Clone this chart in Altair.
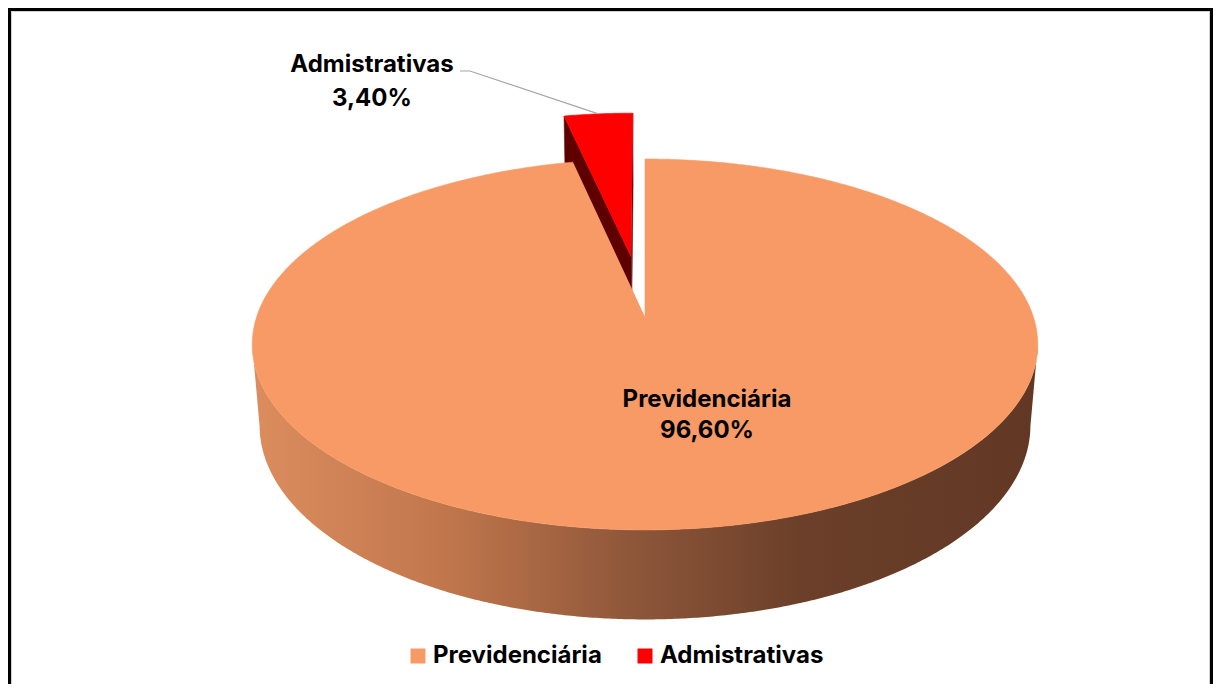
import numpy as np
import pandas as pd
import altair as alt

# ---------------- data ----------------
categories = ["Previdenciária", "Admistrativas"]
values = [96.60, 3.40]
value_labels = ["96,60%", "3,40%"]
top_colors = ["#F89A65", "#FF0000"]
side_colors = ["#8E573A", "#5E0000"]
explode = [0.0, 0.35]

# ---------------- layout / projection constants ----------------
W, H = 1205, 676
OX, OY = 8, 8
CX, CY = 645.0, 317.0
FOC, DIST = 2320.0, 5.973
ALPHA = np.arcsin(0.467)
CA, SA = np.cos(ALPHA), np.sin(ALPHA)
DEPTH = 0.2385
FONT = "Inter"


def proj(X, Yh, Z):
    X = np.asarray(X, float)
    Z = np.asarray(Z, float)
    Yh = np.asarray(Yh, float) + 0 * X
    d = DIST + Z * CA - Yh * SA
    u = FOC * X / d
    v = FOC * (Yh * CA + Z * SA) / d
    return CX + u, CY - v


total = float(sum(values))
ends = np.cumsum(values) / total * 360.0
starts = ends - np.array(values) / total * 360.0

rows = []


def add_poly(pid, layer, xs, ys, cat=""):
    for i, (x, y) in enumerate(zip(xs, ys)):
        rows.append({"poly": pid, "layer": layer, "i": i, "x": float(x), "y": float(y), "category": cat})


leader_end = None
for k, cat in enumerate(categories):
    a0, a1 = np.radians(starts[k]), np.radians(ends[k])
    mid = 0.5 * (a0 + a1)
    ox, oz = explode[k] * np.sin(mid), explode[k] * np.cos(mid)
    th = np.linspace(a0, a1, max(8, int(np.degrees(a1 - a0) * 2)))
    # radial faces (visible only when exploded)
    if explode[k] > 0:
        for a in (a1, a0):
            ex, ez = ox + np.sin(a), oz + np.cos(a)
            xs, ys = proj([ox, ex, ex, ox], [0, 0, -DEPTH, -DEPTH], [oz, ez, ez, oz])
            add_poly(f"rad{k}_{a:.3f}", "radial", xs, ys, cat)
        tx, ty = proj(ox + np.sin(mid), 0, oz + np.cos(mid))
        leader_end = (float(tx), float(ty))
    # outer wall (front-facing part)
    lim = np.arccos(-CA / DIST)
    lo, hi = max(a0, lim), min(a1, 2 * np.pi - lim)
    if hi > lo:
        tw = np.linspace(lo, hi, 400)
        xt, yt = proj(ox + np.sin(tw), 0, oz + np.cos(tw))
        xb, yb = proj(ox + np.sin(tw), -DEPTH, oz + np.cos(tw))
        add_poly(f"wall{k}", "wall", np.r_[xt, xb[::-1]], np.r_[yt, yb[::-1]], cat)
    # top face
    xa, ya = proj(ox + np.sin(th), 0, oz + np.cos(th))
    cx0, cy0 = proj(ox, 0, oz)
    add_poly(f"top{k}", "top", np.r_[cx0, xa], np.r_[cy0, ya], cat)

poly = pd.DataFrame(rows)

xs_ = alt.Scale(domain=[OX, OX + W], nice=False, zero=False)
ys_ = alt.Scale(domain=[OY, OY + H], nice=False, zero=False, reverse=True)
X = alt.X("x:Q", scale=xs_, axis=None)
Y = alt.Y("y:Q", scale=ys_, axis=None)

base = alt.Chart(poly)

radial = base.transform_filter(alt.datum.layer == "radial").mark_line(
    fill=side_colors[1], stroke=side_colors[1], strokeWidth=0.5
).encode(x=X, y=Y, order="i:Q", detail="poly:N")

wall = base.transform_filter(alt.datum.layer == "wall").mark_line(
    fill=alt.Gradient(
        gradient="linear", x1=0, x2=1, y1=0, y2=0,
        stops=[
            alt.GradientStop(color="#DC8D5E", offset=0),
            alt.GradientStop(color="#C0764C", offset=0.25),
            alt.GradientStop(color="#8E573A", offset=0.48),
            alt.GradientStop(color="#6B3F29", offset=0.70),
            alt.GradientStop(color="#623825", offset=1),
        ],
    ),
    strokeOpacity=0,
).encode(x=X, y=Y, order="i:Q", detail="poly:N")

top = base.transform_filter(alt.datum.layer == "top").mark_line(strokeWidth=0.6).encode(
    x=X, y=Y, order="i:Q", detail="poly:N",
    fill=alt.Fill(
        "category:N",
        scale=alt.Scale(domain=categories, range=top_colors),
        legend=alt.Legend(
            orient="none", legendX=398, legendY=636, direction="horizontal", title=None,
            symbolType="square", symbolSize=225, symbolStrokeWidth=0, symbolOpacity=1,
            labelFont=FONT, labelFontWeight="bold", labelFontSize=24, labelColor="black",
            labelLimit=1000, columnPadding=31, labelOffset=3, padding=0,
        ),
    ),
    stroke=alt.Stroke("category:N", scale=alt.Scale(domain=categories, range=top_colors), legend=None),
)

# labels
lab_pos = {"Previdenciária": (707, 407, 438), "Admistrativas": (372, 72, 106)}
lab_rows = []
for cat, vl in zip(categories, value_labels):
    x0, y1, y2 = lab_pos[cat]
    lab_rows.append({"x": x0, "y": y1, "t": cat})
    lab_rows.append({"x": x0, "y": y2, "t": vl})
labels = alt.Chart(pd.DataFrame(lab_rows)).mark_text(
    font=FONT, fontWeight="bold", fontSize=24, color="black", align="center", baseline="alphabetic"
).encode(x=X, y=Y, text="t:N")

lead = pd.DataFrame({"x": [460, 470, leader_end[0]], "y": [71, 71, leader_end[1]], "i": [0, 1, 2]})
leader = alt.Chart(lead).mark_line(color="#A6A6A6", strokeWidth=1.2).encode(x=X, y=Y, order="i:Q")

# frame
one = pd.DataFrame({"a": [0]})
frame_l = alt.Chart(one).mark_rule(color="black", strokeWidth=3).encode(
    x=alt.value(1.5), y=alt.value(0), y2=alt.value(H))
frame_t = alt.Chart(one).mark_rule(color="black", strokeWidth=3).encode(
    x=alt.value(0), x2=alt.value(W), y=alt.value(1.5))
frame_r = alt.Chart(one).mark_rule(color="black", strokeWidth=3).encode(
    x=alt.value(W - 1.5), y=alt.value(0), y2=alt.value(H))
inner_l = alt.Chart(one).mark_rule(color="#D0D0D0", strokeWidth=1).encode(
    x=alt.value(3.5), y=alt.value(3), y2=alt.value(H))
inner_t = alt.Chart(one).mark_rule(color="#D0D0D0", strokeWidth=1).encode(
    x=alt.value(3), x2=alt.value(W - 3), y=alt.value(3.5))
inner_r = alt.Chart(one).mark_rule(color="#D0D0D0", strokeWidth=1).encode(
    x=alt.value(W - 3.5), y=alt.value(3), y2=alt.value(H))

chart = alt.layer(
    radial, wall, top, leader, labels, inner_l, inner_t, inner_r, frame_l, frame_t, frame_r
).properties(
    width=W, height=H, padding=0, autosize=alt.AutoSizeParams(type="none"), background="white"
).configure_view(strokeWidth=0)

chart.save("out.html", embed_options={"renderer": "svg", "actions": False})
